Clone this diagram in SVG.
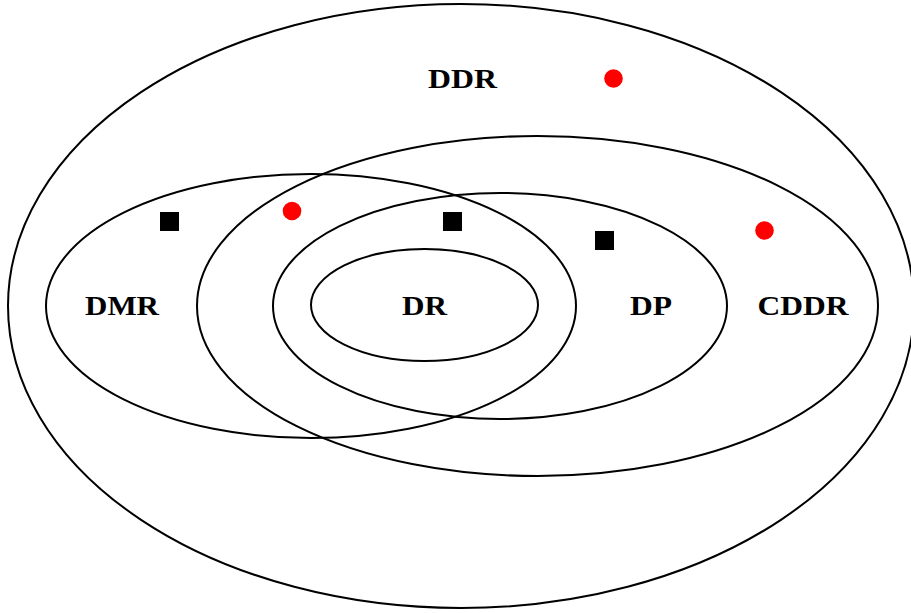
<svg xmlns="http://www.w3.org/2000/svg" width="911" height="613" viewBox="0 0 911 613">
<style>
.set{fill:none;stroke:#000;stroke-width:2}
.lbl{font-family:"Liberation Serif","DejaVu Serif",serif;font-weight:bold;font-size:27px;fill:#000;text-anchor:middle}
.sq{fill:#000}
.dot{fill:#f00}
</style>
<rect width="911" height="613" fill="#fff"/>
<g id="DDR">
<ellipse class="set" cx="461" cy="306" rx="453" ry="302"/>
<text class="lbl" x="462.5" y="88" textLength="69" lengthAdjust="spacingAndGlyphs">DDR</text>
</g>
<g id="CDDR">
<ellipse class="set" cx="537.5" cy="306" rx="340.5" ry="170"/>
<text class="lbl" x="803" y="315" textLength="91" lengthAdjust="spacingAndGlyphs">CDDR</text>
</g>
<g id="DMR">
<ellipse class="set" cx="311" cy="306" rx="265" ry="132"/>
<text class="lbl" x="122" y="315" textLength="74" lengthAdjust="spacingAndGlyphs">DMR</text>
</g>
<g id="DP">
<ellipse class="set" cx="500" cy="306" rx="227" ry="113"/>
<text class="lbl" x="651" y="315" textLength="42" lengthAdjust="spacingAndGlyphs">DP</text>
</g>
<g id="DR">
<ellipse class="set" cx="424.5" cy="305" rx="113.5" ry="56"/>
<text class="lbl" x="424.5" y="314.5" textLength="45" lengthAdjust="spacingAndGlyphs">DR</text>
</g>
<g id="markers">
<rect class="sq" x="160" y="212" width="19" height="19"/>
<rect class="sq" x="443" y="212" width="19" height="19"/>
<rect class="sq" x="595" y="231" width="19" height="19"/>
<circle class="dot" cx="613.5" cy="78.5" r="9.3"/>
<circle class="dot" cx="292" cy="211" r="9.3"/>
<circle class="dot" cx="764.5" cy="230.5" r="9.3"/>
</g>
</svg>
